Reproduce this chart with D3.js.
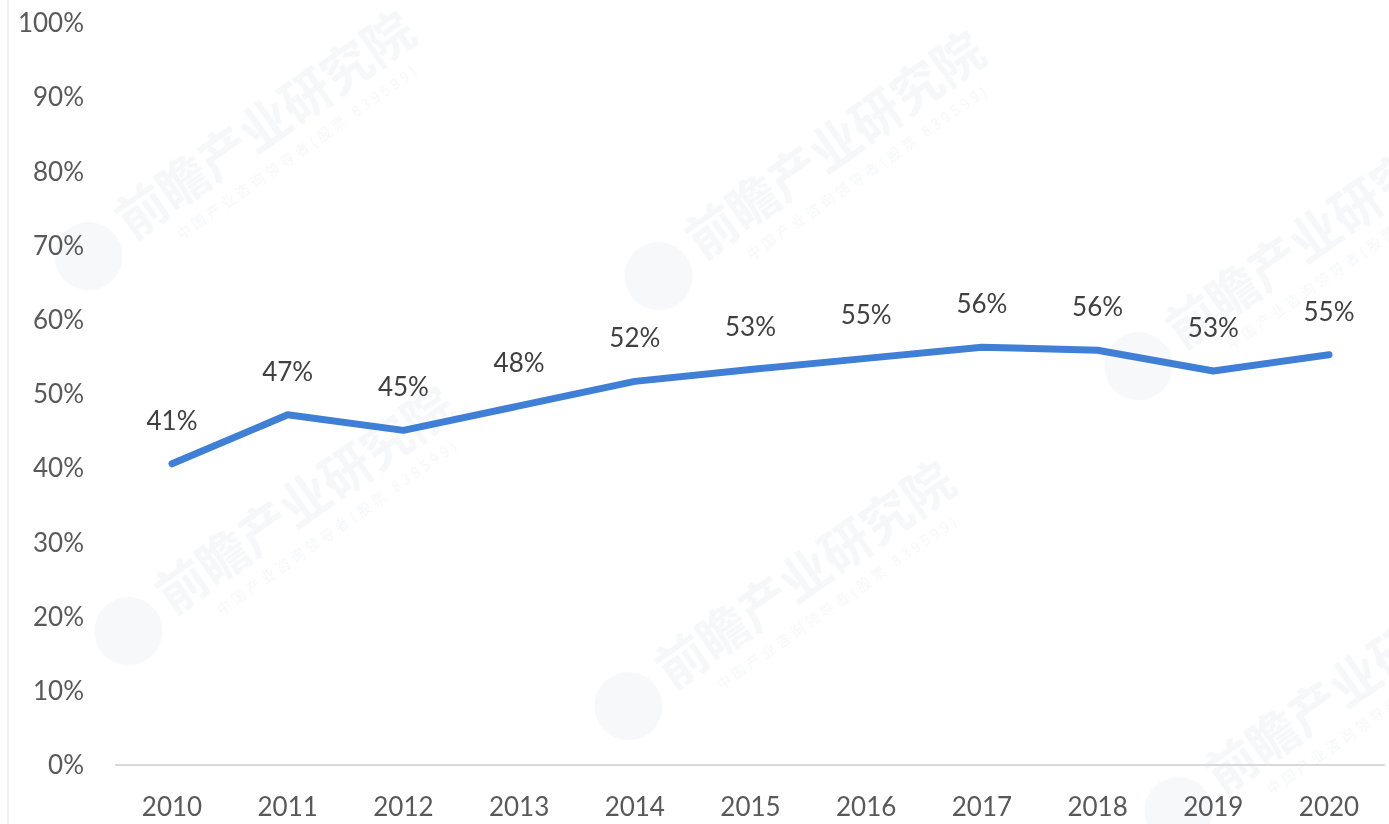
<!DOCTYPE html>
<html>
<head>
<meta charset="utf-8">
<script src="https://cdn.jsdelivr.net/npm/d3@7"></script>
<style>
  body { margin: 0; background: #fff; }
  svg { display: block; }
</style>
</head>
<body>
<svg id="chart" width="1389" height="824"></svg>
<script>
// chart data
var years = ["2010", "2011", "2012", "2013", "2014", "2015", "2016", "2017", "2018", "2019", "2020"];
var shares = [40.6, 47.2, 45.1, 48.4, 51.7, 53.3, 54.8, 56.3, 55.9, 53.1, 55.3];
var yTicks = [0, 10, 20, 30, 40, 50, 60, 70, 80, 90, 100];

// watermark spots (brand text of the source image)
var marks = [[240, 150], [810, 170], [1290, 260], [280, 525], [780, 600], [1330, 705]];

var svg = d3.select("#chart"),
    margin = {left: 115, right: 4, top: 23, bottom: 59},
    width = +svg.attr("width") - margin.left - margin.right;

var font = "Lato, 'Open Sans', sans-serif";

// faint watermarks first, under everything
var wm = svg.append("g").attr("opacity", 0.5);
marks.forEach(function (m) {
    var g = wm.append("g").attr("transform", "translate(" + m[0] + "," + m[1] + ") rotate(-35)");
    g.append("circle")
        .attr("cx", -185).attr("cy", 0).attr("r", 34)
        .style("fill", "#eef0f3");
    g.append("text")
        .attr("x", -140).attr("y", 12)
        .style("font-family", "'Noto Sans CJK SC', sans-serif")
        .style("font-size", "50px")
        .style("font-weight", "bold")
        .style("fill", "#eceef2")
        .text("前瞻产业研究院");
    g.append("text")
        .attr("x", -100).attr("y", 40)
        .style("font-family", "'Noto Sans CJK SC', sans-serif")
        .style("font-size", "14px")
        .style("letter-spacing", "4px")
        .style("fill", "#eceef2")
        .text("中国产业咨询领导者(股票 839599)");
});

// left border line of the picture
svg.append("line")
    .attr("x1", 8).attr("x2", 8).attr("y1", 0).attr("y2", 824)
    .style("stroke", "#f0f0f0").style("stroke-width", 2);

var x = d3.scalePoint().domain(years).range([margin.left + 57, margin.left + width - 56]);
var y = d3.scaleLinear().domain([0, 100]).range([765, margin.top]);

// y labels
svg.append("g").selectAll("text")
    .data(yTicks)
    .enter().append("text")
    .attr("x", 84)
    .attr("y", d => y(d))
    .attr("dy", "0.35em")
    .attr("text-anchor", "end")
    .style("font-family", font)
    .style("font-size", "26px")
    .style("fill", "#595959")
    .text(d => d + "%");

// base axis line
svg.append("line")
    .attr("x1", margin.left).attr("x2", 1385)
    .attr("y1", y(0)).attr("y2", y(0))
    .style("stroke", "#d9d9d9").style("stroke-width", 2);

// x labels
svg.append("g").selectAll("text")
    .data(years)
    .enter().append("text")
    .attr("x", d => x(d))
    .attr("y", 807)
    .attr("dy", "0.35em")
    .attr("text-anchor", "middle")
    .style("font-family", font)
    .style("font-size", "26px")
    .style("fill", "#595959")
    .text(d => d);

// the line
var line = d3.line()
    .x((d, i) => x(years[i]))
    .y(d => y(d));

svg.append("path")
    .datum(shares)
    .attr("d", line)
    .style("fill", "none")
    .style("stroke", "#3f7fd6")
    .style("stroke-width", 7)
    .style("stroke-linecap", "round")
    .style("stroke-linejoin", "round");

// value labels
svg.append("g").selectAll("text")
    .data(shares)
    .enter().append("text")
    .attr("x", (d, i) => x(years[i]))
    .attr("y", d => y(d) - 43)
    .attr("dy", "0.35em")
    .attr("text-anchor", "middle")
    .style("font-family", font)
    .style("font-size", "26px")
    .style("fill", "#404040")
    .text(d => Math.round(d) + "%");
</script>
</body>
</html>
